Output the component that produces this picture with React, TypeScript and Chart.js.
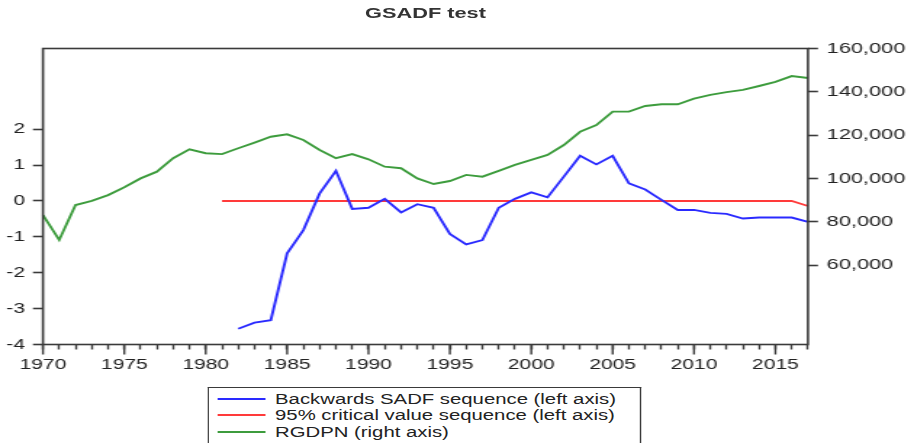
import React, { useEffect, useRef } from 'react';
import { Chart, registerables } from 'chart.js';

Chart.register(...registerables);

// ---------- data ----------
const years: number[] = [
  1970, 1971, 1972, 1973, 1974, 1975, 1976, 1977, 1978, 1979,
  1980, 1981, 1982, 1983, 1984, 1985, 1986, 1987, 1988, 1989,
  1990, 1991, 1992, 1993, 1994, 1995, 1996, 1997, 1998, 1999,
  2000, 2001, 2002, 2003, 2004, 2005, 2006, 2007, 2008, 2009,
  2010, 2011, 2012, 2013, 2014, 2015, 2016, 2017,
];
const majorYears: number[] = [1970, 1975, 1980, 1985, 1990, 1995, 2000, 2005, 2010, 2015];

// Backwards SADF sequence (left axis), 1982-2017
const sadfStartYear = 1982;
const sadf: number[] = [
  -3.56, -3.39, -3.32, -1.46, -0.81, 0.21, 0.84, -0.22, -0.19, 0.06,
  -0.32, -0.09, -0.19, -0.92, -1.21, -1.09, -0.19, 0.06, 0.24, 0.10,
  0.68, 1.26, 1.02, 1.26, 0.49, 0.32, 0.03, -0.25, -0.25, -0.33,
  -0.36, -0.49, -0.46, -0.46, -0.46, -0.58,
];

// 95% critical value sequence (left axis), 1981-2017
const cvStartYear = 1981;
const critical: number[] = [
  0, 0, 0, 0, 0, 0, 0, 0, 0, 0,
  0, 0, 0, 0, 0, 0, 0, 0, 0, 0,
  0, 0, 0, 0, 0, 0, 0, 0, 0, 0,
  0, 0, 0, 0, 0, 0, -0.14,
];

// RGDPN (right axis), 1970-2017
const rgdpn: number[] = [
  83200, 71700, 87800, 89700, 92400, 96000, 100100, 103200, 109400, 113500,
  111700, 111300, 114000, 116600, 119300, 120400, 117800, 113200, 109400, 111300,
  108900, 105500, 104800, 100100, 97500, 98900, 101700, 100900, 103600, 106300,
  108600, 110900, 115500, 121600, 124700, 130900, 130900, 133500, 134300, 134300,
  136900, 138600, 139900, 140900, 142700, 144600, 147300, 146400,
];

const leftTicks: number[] = [-4, -3, -2, -1, 0, 1, 2];
const rightTicks: number[] = [60000, 80000, 100000, 120000, 140000, 160000];

const titleText = 'GSADF test';
const legendLabels: string[] = [
  'Backwards SADF sequence (left axis)',
  '95% critical value sequence (left axis)',
  'RGDPN (right axis)',
];
const seriesColors: string[] = ['#2a2aff', '#ff3a3a', '#3d9c3d'];

// ---------- layout (internal units; whole figure is stretched horizontally) ----------
const W = 630;
const H = 443;
const SX = 914 / W;
const FONT = "'Liberation Sans', Arial, sans-serif";
const AXIS = '#3a3a3a';

const framePlugin = {
  id: 'frame',
  afterDraw(chart: any) {
    const { ctx, chartArea: a, scales } = chart;
    ctx.save();
    ctx.strokeStyle = AXIS;
    ctx.lineWidth = 1.6;
    ctx.strokeRect(a.left, a.top, a.right - a.left, a.bottom - a.top);
    const xs = scales.x;
    ctx.lineWidth = 1.4;
    ctx.beginPath();
    years.forEach((yr, i) => {
      if (majorYears.includes(yr)) {
        const px = xs.getPixelForValue(i);
        ctx.moveTo(px, a.bottom);
        ctx.lineTo(px, a.bottom + 10);
      }
    });
    ctx.stroke();
    ctx.restore();
  },
};

export default function App() {
  const ref = useRef<HTMLCanvasElement | null>(null);

  useEffect(() => {
    document.documentElement.style.overflow = 'hidden';
    document.body.style.overflow = 'hidden';
    const canvas = ref.current;
    if (!canvas) return;

    const sadfData = years.map((y) =>
      y >= sadfStartYear ? sadf[y - sadfStartYear] : null
    );
    const cvData = years.map((y) =>
      y >= cvStartYear ? critical[y - cvStartYear] : null
    );

    const chart = new Chart(canvas, {
      type: 'line',
      data: {
        labels: years.map(String),
        datasets: [
          {
            label: legendLabels[0],
            data: sadfData,
            borderColor: seriesColors[0],
            borderWidth: 1.9,
            pointRadius: 0,
            tension: 0,
            yAxisID: 'y',
            spanGaps: false,
          },
          {
            label: legendLabels[1],
            data: cvData,
            borderColor: seriesColors[1],
            borderWidth: 1.9,
            pointRadius: 0,
            tension: 0,
            yAxisID: 'y',
          },
          {
            label: legendLabels[2],
            data: rgdpn,
            borderColor: seriesColors[2],
            borderWidth: 1.9,
            pointRadius: 0,
            tension: 0,
            yAxisID: 'y1',
          },
        ],
      },
      options: {
        responsive: false,
        animation: false,
        devicePixelRatio: 1,
        layout: { padding: { top: 48.5, left: 0, right: 0, bottom: 0 } },
        plugins: {
          legend: { display: false },
          title: { display: false },
          tooltip: { enabled: false },
        },
        scales: {
          x: {
            type: 'category',
            offset: false,
            grid: {
              display: true,
              drawOnChartArea: false,
              drawTicks: true,
              tickLength: 5,
              tickWidth: 1.4,
              tickColor: AXIS,
              offset: false,
            },
            border: { display: false },
            ticks: {
              autoSkip: false,
              maxRotation: 0,
              minRotation: 0,
              padding: 7,
              color: '#222',
              font: { family: FONT, size: 14.5 },
              callback: (_v: any, i: number) =>
                majorYears.includes(years[i]) ? String(years[i]) : '',
            },
            afterFit: (s: any) => {
              s.height = H - 344.5;
            },
          },
          y: {
            type: 'linear',
            position: 'left',
            min: -4,
            max: 4.25,
            grid: {
              display: true,
              drawOnChartArea: false,
              drawTicks: true,
              tickLength: 6.9,
              tickWidth: 1.6,
              tickColor: AXIS,
            },
            border: { display: false },
            ticks: {
              padding: 5.5,
              color: '#222',
              font: { family: FONT, size: 14.5 },
            },
            afterBuildTicks: (s: any) => {
              s.ticks = leftTicks.map((v) => ({ value: v }));
            },
            afterFit: (s: any) => {
              s.width = 29.6;
            },
          },
          y1: {
            type: 'linear',
            position: 'right',
            min: 23500,
            max: 160000,
            grid: {
              display: true,
              drawOnChartArea: false,
              drawTicks: true,
              tickLength: 6.9,
              tickWidth: 1.6,
              tickColor: AXIS,
            },
            border: { display: false },
            ticks: {
              padding: 6,
              color: '#222',
              font: { family: FONT, size: 15 },
              callback: (v: any) => Number(v).toLocaleString('en-US'),
            },
            afterBuildTicks: (s: any) => {
              s.ticks = rightTicks.map((v) => ({ value: v }));
            },
            afterFit: (s: any) => {
              s.width = W - 556.9;
            },
          },
        },
      },
      plugins: [framePlugin],
    });

    return () => {
      chart.destroy();
    };
  }, []);

  const rowTop = 398.5;
  const rowGap = 16.5;

  return (
    <div
      style={{
        position: 'absolute',
        left: 0,
        top: 0,
        width: W,
        height: H,
        overflow: 'hidden',
        transform: `scaleX(${SX})`,
        transformOrigin: '0 0',
        background: '#fff',
      }}
    >
      <canvas
        ref={ref}
        width={W}
        height={H}
        style={{ position: 'absolute', left: 0, top: 0, width: W, height: H, display: 'block' }}
      />
      <div
        style={{
          position: 'absolute',
          left: 193.3,
          width: 200,
          top: 5,
          textAlign: 'center',
          font: `bold 15px ${FONT}`,
          lineHeight: '15px',
          color: '#333',
          whiteSpace: 'nowrap',
        }}
      >
        {titleText}
      </div>
      <div
        style={{
          position: 'absolute',
          left: 143.4,
          top: 387,
          width: 299,
          height: 60,
          boxSizing: 'border-box',
          border: `1.5px solid ${AXIS}`,
          borderBottom: 'none',
          background: '#fff',
        }}
      />
      {legendLabels.map((lab, i) => {
        const cy = rowTop + rowGap * i;
        return (
          <React.Fragment key={lab}>
            <div
              style={{
                position: 'absolute',
                left: 150,
                width: 33,
                top: cy - 1,
                height: 2,
                background: seriesColors[i],
              }}
            />
            <div
              style={{
                position: 'absolute',
                left: 189.6,
                top: cy - 8,
                font: `14px ${FONT}`,
                lineHeight: '16px',
                color: '#222',
                whiteSpace: 'nowrap',
              }}
            >
              {lab}
            </div>
          </React.Fragment>
        );
      })}
    </div>
  );
}
